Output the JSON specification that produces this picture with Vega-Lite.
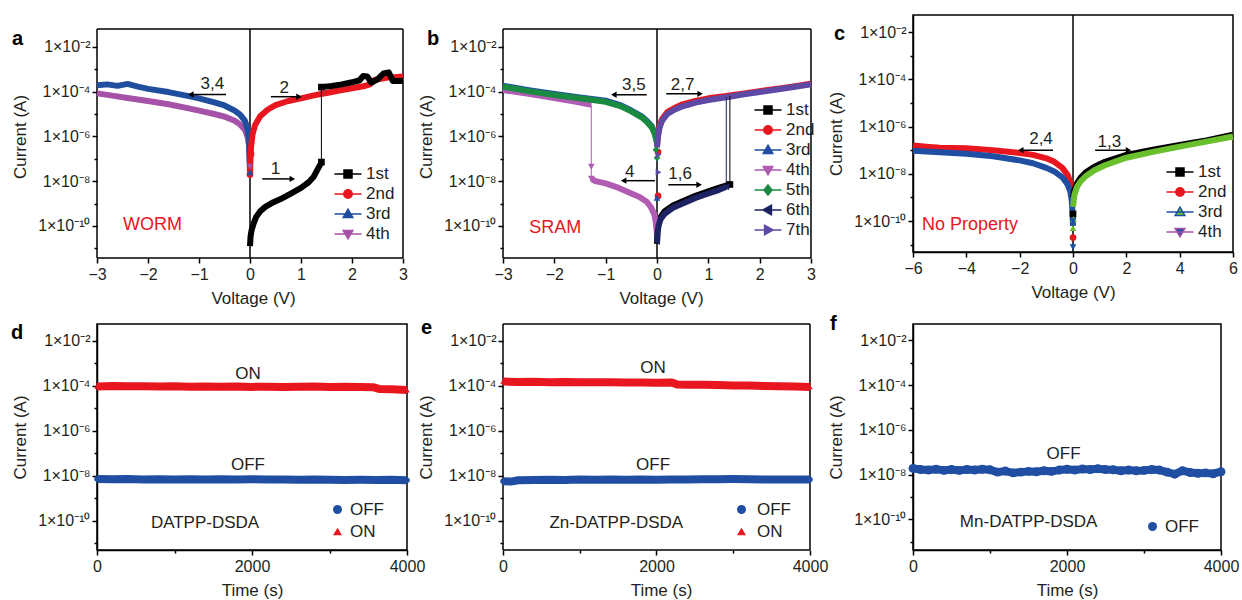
{
"$schema": "https://vega.github.io/schema/vega-lite/v6.json",
"padding": {"left": 10, "top": 13, "right": 5, "bottom": 5},
"background": "white",
"config": {
 "font": "Liberation Sans",
 "view": {"stroke": "#000", "strokeWidth": 1.5},
 "axis": {"grid": false, "domainColor": "#000", "domainWidth": 1.5, "tickColor": "#000", "tickWidth": 1.5, "labelFont": "Liberation Sans", "labelFontSize": 16, "labelColor": "#231f20", "titleFont": "Liberation Sans", "titleFontSize": 17, "titleFontWeight": "normal", "titleColor": "#231f20", "labelFlush": false, "labelOverlap": false},
 "axisX": {"labelPadding": 3, "titlePadding": 8},
 "axisY": {"labelPadding": 2, "titlePadding": 8},
 "legend": {"labelFont": "Liberation Sans", "labelFontSize": 17, "labelColor": "#231f20", "labelOffset": 4},
 "title": {"font": "Liberation Sans"},
 "text": {"font": "Liberation Sans", "fontSize": 17}
},
"datasets": {
 "aL": [
  {"s":"4th","g":"4","V":-3,"I":8.3e-5},{"s":"4th","g":"4","V":-2.7,"I":6.6e-5},{"s":"4th","g":"4","V":-2.4,"I":5.2e-5},{"s":"4th","g":"4","V":-2,"I":3.8e-5},{"s":"4th","g":"4","V":-1.6,"I":2.7e-5},{"s":"4th","g":"4","V":-1.2,"I":1.78e-5},{"s":"4th","g":"4","V":-1,"I":1.41e-5},{"s":"4th","g":"4","V":-0.7,"I":1e-5},{"s":"4th","g":"4","V":-0.5,"I":7.6e-6},{"s":"4th","g":"4","V":-0.3,"I":5e-6},{"s":"4th","g":"4","V":-0.2,"I":3.5e-6},{"s":"4th","g":"4","V":-0.1,"I":2e-6},{"s":"4th","g":"4","V":-0.05,"I":1e-6},{"s":"4th","g":"4","V":-0.02,"I":4e-7},{"s":"4th","g":"4","V":0,"I":4.4e-8},
  {"s":"3rd","g":"3","V":-3,"I":1.9e-4},{"s":"3rd","g":"3","V":-2.8,"I":2.1e-4},{"s":"3rd","g":"3","V":-2.6,"I":1.8e-4},{"s":"3rd","g":"3","V":-2.4,"I":2.2e-4},{"s":"3rd","g":"3","V":-2.2,"I":1.66e-4},{"s":"3rd","g":"3","V":-2,"I":1.32e-4},{"s":"3rd","g":"3","V":-1.6,"I":9.5e-5},{"s":"3rd","g":"3","V":-1.2,"I":6.3e-5},{"s":"3rd","g":"3","V":-1,"I":5e-5},{"s":"3rd","g":"3","V":-0.7,"I":3.3e-5},{"s":"3rd","g":"3","V":-0.5,"I":2.4e-5},{"s":"3rd","g":"3","V":-0.3,"I":1.41e-5},{"s":"3rd","g":"3","V":-0.2,"I":9.5e-6},{"s":"3rd","g":"3","V":-0.1,"I":5e-6},{"s":"3rd","g":"3","V":-0.05,"I":2.2e-6},{"s":"3rd","g":"3","V":-0.02,"I":7.9e-7},{"s":"3rd","g":"3","V":0,"I":2.5e-8},
  {"s":"2nd","g":"2","V":0,"I":2e-8},{"s":"2nd","g":"2","V":0.01,"I":1e-7},{"s":"2nd","g":"2","V":0.02,"I":3.2e-7},{"s":"2nd","g":"2","V":0.05,"I":1.26e-6},{"s":"2nd","g":"2","V":0.1,"I":3.2e-6},{"s":"2nd","g":"2","V":0.2,"I":7.9e-6},{"s":"2nd","g":"2","V":0.35,"I":1.58e-5},{"s":"2nd","g":"2","V":0.5,"I":2.5e-5},{"s":"2nd","g":"2","V":0.75,"I":3.8e-5},{"s":"2nd","g":"2","V":1,"I":5e-5},{"s":"2nd","g":"2","V":1.25,"I":6.8e-5},{"s":"2nd","g":"2","V":1.5,"I":8.7e-5},{"s":"2nd","g":"2","V":1.75,"I":1.12e-4},{"s":"2nd","g":"2","V":2,"I":1.41e-4},{"s":"2nd","g":"2","V":2.25,"I":1.78e-4},{"s":"2nd","g":"2","V":2.35,"I":2.1e-4},{"s":"2nd","g":"2","V":2.45,"I":3.4e-4},{"s":"2nd","g":"2","V":2.7,"I":4.2e-4},{"s":"2nd","g":"2","V":3,"I":4.7e-4},
  {"s":"1st","g":"1a","V":0,"I":1.26e-11},{"s":"1st","g":"1a","V":0.01,"I":3.2e-11},{"s":"1st","g":"1a","V":0.03,"I":6.3e-11},{"s":"1st","g":"1a","V":0.07,"I":1.26e-10},{"s":"1st","g":"1a","V":0.12,"I":2.5e-10},{"s":"1st","g":"1a","V":0.2,"I":4.5e-10},{"s":"1st","g":"1a","V":0.3,"I":7.1e-10},{"s":"1st","g":"1a","V":0.45,"I":1.12e-9},{"s":"1st","g":"1a","V":0.6,"I":1.58e-9},{"s":"1st","g":"1a","V":0.8,"I":2.8e-9},{"s":"1st","g":"1a","V":1,"I":5e-9},{"s":"1st","g":"1a","V":1.15,"I":8.9e-9},{"s":"1st","g":"1a","V":1.25,"I":1.58e-8},{"s":"1st","g":"1a","V":1.32,"I":3.2e-8},{"s":"1st","g":"1a","V":1.38,"I":5.6e-8},{"s":"1st","g":"1a","V":1.4,"I":7.1e-8},
  {"s":"1st","g":"1b","V":1.4,"I":1.58e-4},{"s":"1st","g":"1b","V":1.6,"I":1.78e-4},{"s":"1st","g":"1b","V":1.8,"I":2.1e-4},{"s":"1st","g":"1b","V":2,"I":2.6e-4},{"s":"1st","g":"1b","V":2.15,"I":3.2e-4},{"s":"1st","g":"1b","V":2.22,"I":5e-4},{"s":"1st","g":"1b","V":2.3,"I":4.7e-4},{"s":"1st","g":"1b","V":2.38,"I":2.5e-4},{"s":"1st","g":"1b","V":2.5,"I":3.5e-4},{"s":"1st","g":"1b","V":2.62,"I":6.5e-4},{"s":"1st","g":"1b","V":2.72,"I":7.2e-4},{"s":"1st","g":"1b","V":2.8,"I":3e-4},{"s":"1st","g":"1b","V":3,"I":3e-4}
 ],
 "aP": [{"s":"1st","V":1.4,"I":7.1e-8},{"s":"1st","V":1.4,"I":1.58e-4},{"s":"2nd","V":0,"I":2e-8},{"s":"2nd","V":0.02,"I":1.6e-7},{"s":"3rd","V":0,"I":2.5e-8},{"s":"4th","V":0,"I":4.4e-8}],
 "aA": [{"V":-0.47,"V2":-1.16,"I":7.4e-5},{"V":0.41,"V2":0.96,"I":5.9e-5},{"V":0.24,"V2":0.83,"I":1.26e-8}],
 "aH": [{"V":-1.16,"I":7.4e-5,"d":"L"},{"V":0.96,"I":5.9e-5,"d":"R"},{"V":0.83,"I":1.26e-8,"d":"R"}],
 "aT": [{"V":-0.74,"I":2.1e-4,"t":"3,4"},{"V":0.67,"I":1.38e-4,"t":"2"},{"V":0.5,"I":3.5e-8,"t":"1"}],
 "abF": [{"V":-3,"V2":3,"I":0.063,"I2":0.063},{"V":3,"V2":3,"I":3.7e-12,"I2":0.063},{"V":-3,"V2":-3,"I":3.7e-12,"I2":0.063},{"V":-3,"V2":3,"I":3.7e-12,"I2":3.7e-12}],
 "bL": [
  {"s":"1st","g":"1","V":0,"I":1.6e-11},{"s":"1st","g":"1","V":0.01,"I":6.3e-11},{"s":"1st","g":"1","V":0.03,"I":1.26e-10},{"s":"1st","g":"1","V":0.07,"I":2.5e-10},{"s":"1st","g":"1","V":0.15,"I":4.5e-10},{"s":"1st","g":"1","V":0.3,"I":7.9e-10},{"s":"1st","g":"1","V":0.5,"I":1.26e-9},{"s":"1st","g":"1","V":0.75,"I":2.2e-9},{"s":"1st","g":"1","V":1,"I":3.5e-9},{"s":"1st","g":"1","V":1.2,"I":5e-9},{"s":"1st","g":"1","V":1.42,"I":7.1e-9},
  {"s":"2nd","g":"2","V":0,"I":3.8e-7},{"s":"2nd","g":"2","V":0.02,"I":1.2e-6},{"s":"2nd","g":"2","V":0.05,"I":3e-6},{"s":"2nd","g":"2","V":0.1,"I":6e-6},{"s":"2nd","g":"2","V":0.2,"I":1.2e-5},{"s":"2nd","g":"2","V":0.35,"I":1.9e-5},{"s":"2nd","g":"2","V":0.5,"I":2.7e-5},{"s":"2nd","g":"2","V":0.75,"I":3.8e-5},{"s":"2nd","g":"2","V":1,"I":5e-5},{"s":"2nd","g":"2","V":1.35,"I":6.3e-5},{"s":"2nd","g":"2","V":1.7,"I":8.3e-5},{"s":"2nd","g":"2","V":2,"I":1.05e-4},{"s":"2nd","g":"2","V":2.5,"I":1.5e-4},{"s":"2nd","g":"2","V":3,"I":2.24e-4},
  {"s":"3rd","g":"3","V":-3,"I":1.82e-4},{"s":"3rd","g":"3","V":-2.5,"I":1.16e-4},{"s":"3rd","g":"3","V":-2,"I":7.8e-5},{"s":"3rd","g":"3","V":-1.5,"I":5.5e-5},{"s":"3rd","g":"3","V":-1,"I":3.9e-5},{"s":"3rd","g":"3","V":-0.7,"I":2.4e-5},{"s":"3rd","g":"3","V":-0.5,"I":1.43e-5},{"s":"3rd","g":"3","V":-0.3,"I":7.8e-6},{"s":"3rd","g":"3","V":-0.2,"I":5e-6},{"s":"3rd","g":"3","V":-0.1,"I":2.8e-6},{"s":"3rd","g":"3","V":-0.05,"I":1.55e-6},{"s":"3rd","g":"3","V":-0.02,"I":8.7e-7},{"s":"3rd","g":"3","V":0,"I":5.5e-7},
  {"s":"4th","g":"4a","V":-3,"I":1.17e-4},{"s":"4th","g":"4a","V":-2.5,"I":7.9e-5},{"s":"4th","g":"4a","V":-2,"I":5.2e-5},{"s":"4th","g":"4a","V":-1.6,"I":3.6e-5},{"s":"4th","g":"4a","V":-1.28,"I":2.6e-5},
  {"s":"4th","g":"4b","V":-1.28,"I":1.3e-8},{"s":"4th","g":"4b","V":-1.2,"I":1e-8},{"s":"4th","g":"4b","V":-1,"I":7.9e-9},{"s":"4th","g":"4b","V":-0.8,"I":5.6e-9},{"s":"4th","g":"4b","V":-0.5,"I":2.8e-9},{"s":"4th","g":"4b","V":-0.35,"I":2e-9},{"s":"4th","g":"4b","V":-0.2,"I":1.2e-9},{"s":"4th","g":"4b","V":-0.12,"I":7e-10},{"s":"4th","g":"4b","V":-0.05,"I":3.2e-10},{"s":"4th","g":"4b","V":-0.02,"I":1.26e-10},{"s":"4th","g":"4b","V":0,"I":4e-11},
  {"s":"5th","g":"5","V":-3,"I":1.66e-4},{"s":"5th","g":"5","V":-2.5,"I":1.05e-4},{"s":"5th","g":"5","V":-2,"I":7.1e-5},{"s":"5th","g":"5","V":-1.5,"I":5e-5},{"s":"5th","g":"5","V":-1,"I":3.5e-5},{"s":"5th","g":"5","V":-0.7,"I":2.2e-5},{"s":"5th","g":"5","V":-0.5,"I":1.3e-5},{"s":"5th","g":"5","V":-0.3,"I":7.1e-6},{"s":"5th","g":"5","V":-0.2,"I":4.5e-6},{"s":"5th","g":"5","V":-0.1,"I":2.5e-6},{"s":"5th","g":"5","V":-0.05,"I":1.4e-6},{"s":"5th","g":"5","V":-0.02,"I":7.9e-7},{"s":"5th","g":"5","V":0,"I":5e-7},
  {"s":"6th","g":"6","V":0,"I":2e-11},{"s":"6th","g":"6","V":0.01,"I":5e-11},{"s":"6th","g":"6","V":0.03,"I":1e-10},{"s":"6th","g":"6","V":0.07,"I":2e-10},{"s":"6th","g":"6","V":0.15,"I":3.5e-10},{"s":"6th","g":"6","V":0.3,"I":6.3e-10},{"s":"6th","g":"6","V":0.5,"I":1e-9},{"s":"6th","g":"6","V":0.75,"I":1.78e-9},{"s":"6th","g":"6","V":1,"I":2.8e-9},{"s":"6th","g":"6","V":1.2,"I":4e-9},{"s":"6th","g":"6","V":1.35,"I":5.6e-9},
  {"s":"7th","g":"7","V":0,"I":3.2e-7},{"s":"7th","g":"7","V":0.02,"I":1e-6},{"s":"7th","g":"7","V":0.05,"I":2.5e-6},{"s":"7th","g":"7","V":0.1,"I":5e-6},{"s":"7th","g":"7","V":0.2,"I":1e-5},{"s":"7th","g":"7","V":0.35,"I":1.58e-5},{"s":"7th","g":"7","V":0.5,"I":2.2e-5},{"s":"7th","g":"7","V":0.75,"I":3.2e-5},{"s":"7th","g":"7","V":1,"I":4.2e-5},{"s":"7th","g":"7","V":1.35,"I":5.6e-5},{"s":"7th","g":"7","V":1.7,"I":7.6e-5},{"s":"7th","g":"7","V":2,"I":9.5e-5},{"s":"7th","g":"7","V":2.5,"I":1.41e-4},{"s":"7th","g":"7","V":3,"I":2.1e-4}
 ],
 "bJ": [{"g":"4a","V":-1.28,"I":1.3e-8,"I2":2.6e-5},{"g":"1","V":1.42,"I":7.1e-9,"I2":6.3e-5},{"g":"6","V":1.35,"I":5.6e-9,"I2":5.6e-5}],
 "bP": [{"s":"1st","V":1.42,"I":7.1e-9},{"s":"2nd","V":0.02,"I":2.2e-9},{"s":"2nd","V":0.02,"I":2e-7},{"s":"3rd","V":0,"I":1.8e-9},{"s":"4th","V":-1.28,"I":4.4e-8},{"s":"4th","V":-1.28,"I":1.3e-8},{"s":"5th","V":0,"I":1.1e-7},{"s":"5th","V":-0.02,"I":2.5e-7},{"s":"6th","V":0,"I":2e-11},{"s":"6th","V":1.35,"I":5.6e-9},{"s":"7th","V":0.03,"I":1.5e-7},{"s":"7th","V":0.03,"I":2.5e-8}],
 "bA": [{"V":-0.2,"V2":-0.84,"I":7.2e-5},{"V":0.18,"V2":0.84,"I":7.9e-5},{"V":-0.04,"V2":-0.65,"I":1.05e-8},{"V":0.22,"V2":0.82,"I":6.9e-9}],
 "bH": [{"V":-0.84,"I":7.2e-5,"d":"L"},{"V":0.84,"I":7.9e-5,"d":"R"},{"V":-0.65,"I":1.05e-8,"d":"L"},{"V":0.82,"I":6.9e-9,"d":"R"}],
 "bT": [{"V":-0.45,"I":2e-4,"t":"3,5"},{"V":0.5,"I":2e-4,"t":"2,7"},{"V":-0.53,"I":2.6e-8,"t":"4"},{"V":0.45,"I":2e-8,"t":"1,6"}],
 "cL": [
  {"s":"2nd","g":"2","V":-6,"I":1.58e-7},{"s":"2nd","g":"2","V":-5.5,"I":1.41e-7},{"s":"2nd","g":"2","V":-5,"I":1.26e-7},{"s":"2nd","g":"2","V":-4,"I":1.2e-7},{"s":"2nd","g":"2","V":-3.5,"I":1.1e-7},{"s":"2nd","g":"2","V":-3,"I":1e-7},{"s":"2nd","g":"2","V":-2,"I":7.6e-8},{"s":"2nd","g":"2","V":-1.5,"I":6.3e-8},{"s":"2nd","g":"2","V":-1,"I":4.5e-8},{"s":"2nd","g":"2","V":-0.7,"I":3.2e-8},{"s":"2nd","g":"2","V":-0.4,"I":1.78e-8},{"s":"2nd","g":"2","V":-0.2,"I":8.9e-9},{"s":"2nd","g":"2","V":-0.1,"I":4.5e-9},{"s":"2nd","g":"2","V":-0.03,"I":1.58e-9},{"s":"2nd","g":"2","V":0,"I":6.3e-10},
  {"s":"4th","g":"4","V":-6,"I":9.5e-8},{"s":"4th","g":"4","V":-5,"I":8.2e-8},{"s":"4th","g":"4","V":-4,"I":7e-8},{"s":"4th","g":"4","V":-3,"I":5.5e-8},{"s":"4th","g":"4","V":-2,"I":3.7e-8},{"s":"4th","g":"4","V":-1.5,"I":2.8e-8},{"s":"4th","g":"4","V":-1,"I":1.78e-8},{"s":"4th","g":"4","V":-0.7,"I":1.26e-8},{"s":"4th","g":"4","V":-0.4,"I":7.1e-9},{"s":"4th","g":"4","V":-0.2,"I":3.5e-9},{"s":"4th","g":"4","V":-0.1,"I":1.78e-9},{"s":"4th","g":"4","V":-0.05,"I":7.9e-10},{"s":"4th","g":"4","V":-0.02,"I":2.5e-10},{"s":"4th","g":"4","V":0,"I":6.3e-11},
  {"s":"1st","g":"1","V":0,"I":1e-9},{"s":"1st","g":"1","V":0.05,"I":2e-9},{"s":"1st","g":"1","V":0.15,"I":4e-9},{"s":"1st","g":"1","V":0.3,"I":7.1e-9},{"s":"1st","g":"1","V":0.5,"I":1.2e-8},{"s":"1st","g":"1","V":0.8,"I":2e-8},{"s":"1st","g":"1","V":1.2,"I":3.2e-8},{"s":"1st","g":"1","V":2,"I":6.3e-8},{"s":"1st","g":"1","V":3,"I":1.05e-7},{"s":"1st","g":"1","V":4,"I":1.66e-7},{"s":"1st","g":"1","V":5,"I":2.6e-7},{"s":"1st","g":"1","V":6,"I":4.5e-7},
  {"s":"3rd","g":"3","V":0,"I":4e-10},{"s":"3rd","g":"3","V":0.05,"I":1.26e-9},{"s":"3rd","g":"3","V":0.15,"I":2.8e-9},{"s":"3rd","g":"3","V":0.3,"I":5e-9},{"s":"3rd","g":"3","V":0.5,"I":8.3e-9},{"s":"3rd","g":"3","V":0.8,"I":1.41e-8},{"s":"3rd","g":"3","V":1.2,"I":2.3e-8},{"s":"3rd","g":"3","V":2,"I":4.8e-8},{"s":"3rd","g":"3","V":3,"I":8.5e-8},{"s":"3rd","g":"3","V":4,"I":1.41e-7},{"s":"3rd","g":"3","V":5,"I":2.3e-7},{"s":"3rd","g":"3","V":6,"I":3.8e-7}
 ],
 "cP": [{"s":"1st","V":0,"I":2e-10},{"s":"2nd","V":0,"I":2e-11},{"s":"3rd","V":0,"I":5e-11},{"s":"3rd","V":0.02,"I":1.2e-10},{"s":"4th","V":0,"I":7.9e-12},{"s":"4th","V":0,"I":1e-10}],
 "cA": [{"V":-0.75,"V2":-1.96,"I":1e-7},{"V":0.83,"V2":2.08,"I":1e-7}],
 "cH": [{"V":-1.96,"I":1e-7,"d":"L"},{"V":2.08,"I":1e-7,"d":"R"}],
 "cT": [{"V":-1.2,"I":3e-7,"t":"2,4"},{"V":1.36,"I":2.2e-7,"t":"1,3"}],
 "dL": [
  {"s":"ON","t":0,"I":9.5e-5},{"s":"ON","t":200,"I":1e-4},{"s":"ON","t":400,"I":9.6e-5},{"s":"ON","t":600,"I":9.8e-5},{"s":"ON","t":800,"I":9.4e-5},{"s":"ON","t":1000,"I":9.7e-5},{"s":"ON","t":1200,"I":9.3e-5},{"s":"ON","t":1400,"I":9.5e-5},{"s":"ON","t":1600,"I":9.2e-5},{"s":"ON","t":1800,"I":9.4e-5},{"s":"ON","t":2000,"I":9.1e-5},{"s":"ON","t":2200,"I":9.3e-5},{"s":"ON","t":2400,"I":9e-5},{"s":"ON","t":2600,"I":9.2e-5},{"s":"ON","t":2800,"I":9.4e-5},{"s":"ON","t":3000,"I":9e-5},{"s":"ON","t":3200,"I":9.2e-5},{"s":"ON","t":3400,"I":8.9e-5},{"s":"ON","t":3560,"I":8.8e-5},{"s":"ON","t":3640,"I":7.4e-5},{"s":"ON","t":3800,"I":7.2e-5},{"s":"ON","t":4000,"I":6.6e-5},
  {"s":"OFF","t":0,"I":7.4e-9},{"s":"OFF","t":200,"I":7.1e-9},{"s":"OFF","t":400,"I":7.3e-9},{"s":"OFF","t":600,"I":7e-9},{"s":"OFF","t":800,"I":7.2e-9},{"s":"OFF","t":1000,"I":7e-9},{"s":"OFF","t":1200,"I":7.2e-9},{"s":"OFF","t":1400,"I":6.9e-9},{"s":"OFF","t":1600,"I":7.1e-9},{"s":"OFF","t":1800,"I":6.9e-9},{"s":"OFF","t":2000,"I":7.1e-9},{"s":"OFF","t":2200,"I":6.9e-9},{"s":"OFF","t":2400,"I":7e-9},{"s":"OFF","t":2600,"I":6.8e-9},{"s":"OFF","t":2800,"I":7e-9},{"s":"OFF","t":3000,"I":6.8e-9},{"s":"OFF","t":3200,"I":6.6e-9},{"s":"OFF","t":3400,"I":6.7e-9},{"s":"OFF","t":3600,"I":6.6e-9},{"s":"OFF","t":3800,"I":6.7e-9},{"s":"OFF","t":4000,"I":6.5e-9}
 ],
 "dT": [{"t":1948,"I":3.4e-4,"x":"ON"},{"t":1948,"I":3.1e-8,"x":"OFF"},{"t":1394,"I":8.1e-11,"x":"DATPP-DSDA"}],
 "eL": [
  {"s":"ON","t":0,"I":1.58e-4},{"s":"ON","t":200,"I":1.5e-4},{"s":"ON","t":400,"I":1.53e-4},{"s":"ON","t":600,"I":1.48e-4},{"s":"ON","t":800,"I":1.5e-4},{"s":"ON","t":1000,"I":1.46e-4},{"s":"ON","t":1200,"I":1.45e-4},{"s":"ON","t":1400,"I":1.46e-4},{"s":"ON","t":1600,"I":1.42e-4},{"s":"ON","t":1800,"I":1.43e-4},{"s":"ON","t":2000,"I":1.4e-4},{"s":"ON","t":2200,"I":1.42e-4},{"s":"ON","t":2270,"I":1.15e-4},{"s":"ON","t":2400,"I":1.14e-4},{"s":"ON","t":2600,"I":1.12e-4},{"s":"ON","t":2800,"I":1.1e-4},{"s":"ON","t":3000,"I":1.05e-4},{"s":"ON","t":3200,"I":1.04e-4},{"s":"ON","t":3400,"I":1e-4},{"s":"ON","t":3600,"I":9.7e-5},{"s":"ON","t":3800,"I":9.4e-5},{"s":"ON","t":4000,"I":9e-5},
  {"s":"OFF","t":0,"I":5.8e-9},{"s":"OFF","t":100,"I":5.6e-9},{"s":"OFF","t":200,"I":6.4e-9},{"s":"OFF","t":400,"I":6.6e-9},{"s":"OFF","t":600,"I":6.8e-9},{"s":"OFF","t":800,"I":6.6e-9},{"s":"OFF","t":1000,"I":6.9e-9},{"s":"OFF","t":1200,"I":6.7e-9},{"s":"OFF","t":1400,"I":6.9e-9},{"s":"OFF","t":1600,"I":6.8e-9},{"s":"OFF","t":1800,"I":7e-9},{"s":"OFF","t":2000,"I":6.8e-9},{"s":"OFF","t":2200,"I":7e-9},{"s":"OFF","t":2400,"I":6.9e-9},{"s":"OFF","t":2600,"I":7.1e-9},{"s":"OFF","t":2800,"I":7.2e-9},{"s":"OFF","t":3000,"I":7.3e-9},{"s":"OFF","t":3200,"I":7.2e-9},{"s":"OFF","t":3400,"I":7e-9},{"s":"OFF","t":3600,"I":7e-9},{"s":"OFF","t":3800,"I":6.9e-9},{"s":"OFF","t":4000,"I":7e-9}
 ],
 "eT": [{"t":1955,"I":6.2e-4,"x":"ON"},{"t":1955,"I":3e-8,"x":"OFF"},{"t":1476,"I":7.9e-11,"x":"Zn-DATPP-DSDA"}],
 "eF": [{"t":0,"t2":4000,"I":0.0569,"I2":0.0569},{"t":4000,"t2":4000,"I":5.1e-12,"I2":0.0569},{"t":0,"t2":0,"I":5.1e-12,"I2":0.0569},{"t":0,"t2":4000,"I":5.1e-12,"I2":5.1e-12}],
 "fL": [
  {"s":"OFF","t":0,"I":1.9e-8},{"s":"OFF","t":100,"I":1.7e-8},{"s":"OFF","t":200,"I":1.6e-8},{"s":"OFF","t":300,"I":1.75e-8},{"s":"OFF","t":400,"I":1.55e-8},{"s":"OFF","t":500,"I":1.7e-8},{"s":"OFF","t":600,"I":1.55e-8},{"s":"OFF","t":700,"I":1.7e-8},{"s":"OFF","t":800,"I":1.6e-8},{"s":"OFF","t":900,"I":1.75e-8},{"s":"OFF","t":1000,"I":1.65e-8},{"s":"OFF","t":1100,"I":1.3e-8},{"s":"OFF","t":1200,"I":1.45e-8},{"s":"OFF","t":1300,"I":1.2e-8},{"s":"OFF","t":1400,"I":1.3e-8},{"s":"OFF","t":1500,"I":1.4e-8},{"s":"OFF","t":1600,"I":1.35e-8},{"s":"OFF","t":1700,"I":1.5e-8},{"s":"OFF","t":1800,"I":1.4e-8},{"s":"OFF","t":1900,"I":1.6e-8},{"s":"OFF","t":2000,"I":1.75e-8},{"s":"OFF","t":2100,"I":1.6e-8},{"s":"OFF","t":2200,"I":1.8e-8},{"s":"OFF","t":2300,"I":1.7e-8},{"s":"OFF","t":2400,"I":1.85e-8},{"s":"OFF","t":2500,"I":1.7e-8},{"s":"OFF","t":2600,"I":1.65e-8},{"s":"OFF","t":2700,"I":1.5e-8},{"s":"OFF","t":2800,"I":1.6e-8},{"s":"OFF","t":2900,"I":1.5e-8},{"s":"OFF","t":3000,"I":1.55e-8},{"s":"OFF","t":3100,"I":1.7e-8},{"s":"OFF","t":3200,"I":1.6e-8},{"s":"OFF","t":3300,"I":1.3e-8},{"s":"OFF","t":3400,"I":1.05e-8},{"s":"OFF","t":3500,"I":1.5e-8},{"s":"OFF","t":3600,"I":1.25e-8},{"s":"OFF","t":3700,"I":1.15e-8},{"s":"OFF","t":3800,"I":1.2e-8},{"s":"OFF","t":3900,"I":1.1e-8},{"s":"OFF","t":4000,"I":1.35e-8}
 ],
 "fT": [{"t":1955,"I":8.5e-8,"x":"OFF"},{"t":1502,"I":7.9e-11,"x":"Mn-DATPP-DSDA"}]
},
"columns": 3,
"spacing": {"row": 66, "column": 94},
"align": {"row": "each", "column": "none"},
"bounds": "flush",
"resolve": {"scale": {"color": "independent", "fill": "independent", "stroke": "independent", "shape": "independent"}, "legend": {"color": "independent", "fill": "independent", "stroke": "independent", "shape": "independent"}},
"concat": [
 {"width": 312, "height": 243, "view": {"stroke": null},
  "title": {"text": "a", "anchor": "start", "frame": "group", "fontSize": 20, "fontWeight": "bold", "dx": -85, "dy": 50, "offset": 0, "baseline": "alphabetic", "color": "#000"},
  "encoding": {
   "x": {"field": "V", "type": "quantitative", "scale": {"domain": [-3, 3.1176], "nice": false, "zero": false}, "axis": {"title": "Voltage (V)", "domain": false, "values": [-3,-2,-1,0,1,2,3], "format": "d", "tickSize": 5}},
   "y": {"field": "I", "type": "quantitative", "scale": {"type": "log", "domain": [3.7e-12, 0.263], "nice": false}, "axis": {"title": "Current (A)", "domain": false, "values": [1e-11,1e-10,1e-9,1e-8,1e-7,1e-6,1e-5,1e-4,1e-3,1e-2], "labelExpr": "round(log(datum.value)/LN10) == -2 ? '1×10⁻²' : round(log(datum.value)/LN10) == -4 ? '1×10⁻⁴' : round(log(datum.value)/LN10) == -6 ? '1×10⁻⁶' : round(log(datum.value)/LN10) == -8 ? '1×10⁻⁸' : round(log(datum.value)/LN10) == -10 ? '1×10⁻¹⁰' : ''", "tickSize": {"condition": {"test": "round(log(datum.value)/LN10) % 2 != 0", "value": 3}, "value": 5}}}
  },
  "layer": [
   {"data": {"name": "abF"}, "mark": {"type": "rule", "color": "#000", "strokeWidth": 1.5}, "encoding": {"x2": {"field": "V2"}, "y2": {"field": "I2"}}},
   {"data": {"values": [{"V": 0, "I": 3.7e-12, "I2": 0.063}]}, "mark": {"type": "rule", "color": "#000", "strokeWidth": 1.5}, "encoding": {"y2": {"field": "I2"}}},
   {"data": {"name": "aL"}, "mark": {"type": "line", "strokeWidth": 6, "strokeJoin": "round"}, "encoding": {"color": {"field": "g", "type": "nominal", "scale": {"domain": ["1a","1b","2","3","4"], "range": ["#000000","#000000","#e8161e","#1f4e9e","#a652a8"]}, "legend": null}}},
   {"data": {"values": [{"V": 1.4, "I": 7.1e-8, "I2": 1.58e-4}]}, "mark": {"type": "rule", "strokeWidth": 1, "color": "#000"}, "encoding": {"y2": {"field": "I2"}}},
   {"data": {"name": "aP"}, "transform": [{"filter": "datum.s == '1st'"}], "mark": {"type": "point", "shape": "square", "filled": true, "color": "#000000", "size": 45, "opacity": 1}},
   {"data": {"name": "aP"}, "transform": [{"filter": "datum.s == '2nd'"}], "mark": {"type": "point", "shape": "circle", "filled": true, "color": "#e8161e", "size": 45, "opacity": 1}},
   {"data": {"name": "aP"}, "transform": [{"filter": "datum.s == '3rd'"}], "mark": {"type": "point", "shape": "triangle-up", "filled": true, "color": "#1f4e9e", "size": 45, "opacity": 1}},
   {"data": {"name": "aP"}, "transform": [{"filter": "datum.s == '4th'"}], "mark": {"type": "point", "shape": "triangle-down", "filled": true, "color": "#a652a8", "size": 45, "opacity": 1}},
   {"data": {"values": [{"s": "1st"}]}, "mark": {"type": "point", "filled": true, "opacity": 1},
    "encoding": {
     "fill": {"field": "s", "type": "nominal", "scale": {"domain": ["1st","2nd","3rd","4th"], "range": ["#000000","#e8161e","#1f4e9e","#a652a8"]}, "legend": {"title": null, "orient": "none", "legendX": 240, "legendY": 148, "symbolSize": 400, "symbolStrokeWidth": 1.5, "rowPadding": 1, "labelOffset": 7}},
     "stroke": {"field": "s", "type": "nominal", "scale": {"domain": ["1st","2nd","3rd","4th"], "range": ["#000000","#e8161e","#1f4e9e","#a652a8"]}, "legend": {"title": null, "orient": "none", "legendX": 240, "legendY": 148, "symbolSize": 400, "symbolStrokeWidth": 1.5, "rowPadding": 1, "labelOffset": 7}},
     "shape": {"field": "s", "type": "nominal", "scale": {"domain": ["1st","2nd","3rd","4th"], "range": ["M-1.35,0H1.35M-0.4,-0.4H0.4V0.4H-0.4Z","M-1.35,0H1.35M0.42,0A0.42,0.42,0,1,1,-0.42,0A0.42,0.42,0,1,1,0.42,0Z","M-1.35,0H1.35M0,-0.48L0.48,0.34L-0.48,0.34Z","M-1.35,0H1.35M0,0.48L0.48,-0.34L-0.48,-0.34Z"]}, "legend": {"title": null, "orient": "none", "legendX": 240, "legendY": 148, "symbolSize": 400, "symbolStrokeWidth": 1.5, "rowPadding": 1, "labelOffset": 7}}
    }},
   {"data": {"name": "aA"}, "mark": {"type": "rule", "color": "#000", "strokeWidth": 1.5}, "encoding": {"x2": {"field": "V2"}}},
   {"data": {"name": "aH"}, "transform": [{"filter": "datum.d == 'L'"}], "mark": {"type": "point", "shape": "triangle-left", "filled": true, "color": "#000", "size": 40, "opacity": 1}},
   {"data": {"name": "aH"}, "transform": [{"filter": "datum.d == 'R'"}], "mark": {"type": "point", "shape": "triangle-right", "filled": true, "color": "#000", "size": 40, "opacity": 1}},
   {"data": {"name": "aT"}, "mark": {"type": "text", "fontSize": 17, "color": "#231f20"}, "encoding": {"text": {"field": "t"}}},
   {"data": {"values": [{"V": -2.49, "I": 1.12e-10, "t": "WORM"}]}, "mark": {"type": "text", "align": "left", "fontSize": 18, "color": "#e8161e"}, "encoding": {"text": {"field": "t"}}}
  ]
 },
 {"width": 316, "height": 243, "view": {"stroke": null},
  "title": {"text": "b", "anchor": "start", "frame": "group", "fontSize": 20, "fontWeight": "bold", "dx": -76, "dy": 50, "offset": 0, "baseline": "alphabetic", "color": "#000"},
  "encoding": {
   "x": {"field": "V", "type": "quantitative", "scale": {"domain": [-3, 3.156], "nice": false, "zero": false}, "axis": {"title": "Voltage (V)", "domain": false, "values": [-3,-2,-1,0,1,2,3], "format": "d", "tickSize": 5}},
   "y": {"field": "I", "type": "quantitative", "scale": {"type": "log", "domain": [3.7e-12, 0.263], "nice": false}, "axis": {"title": "Current (A)", "domain": false, "values": [1e-11,1e-10,1e-9,1e-8,1e-7,1e-6,1e-5,1e-4,1e-3,1e-2], "labelExpr": "round(log(datum.value)/LN10) == -2 ? '1×10⁻²' : round(log(datum.value)/LN10) == -4 ? '1×10⁻⁴' : round(log(datum.value)/LN10) == -6 ? '1×10⁻⁶' : round(log(datum.value)/LN10) == -8 ? '1×10⁻⁸' : round(log(datum.value)/LN10) == -10 ? '1×10⁻¹⁰' : ''", "tickSize": {"condition": {"test": "round(log(datum.value)/LN10) % 2 != 0", "value": 3}, "value": 5}}}
  },
  "layer": [
   {"data": {"name": "abF"}, "mark": {"type": "rule", "color": "#000", "strokeWidth": 1.5}, "encoding": {"x2": {"field": "V2"}, "y2": {"field": "I2"}}},
   {"data": {"values": [{"V": 0, "I": 3.7e-12, "I2": 0.063}]}, "mark": {"type": "rule", "color": "#000", "strokeWidth": 1.5}, "encoding": {"y2": {"field": "I2"}}},
   {"data": {"name": "bL"}, "mark": {"type": "line", "strokeWidth": 6, "strokeJoin": "round"}, "encoding": {"color": {"field": "g", "type": "nominal", "scale": {"domain": ["1","2","3","4a","4b","5","6","7"], "range": ["#000000","#e8161e","#1f4ea3","#b05cb3","#b05cb3","#1a8a40","#1c2262","#5e4aa5"]}, "legend": null}}},
   {"data": {"name": "bJ"}, "mark": {"type": "rule", "strokeWidth": 1}, "encoding": {"y2": {"field": "I2"}, "color": {"field": "g", "type": "nominal", "legend": null}}},
   {"data": {"name": "bP"}, "transform": [{"filter": "datum.s == '1st'"}], "mark": {"type": "point", "shape": "square", "filled": true, "color": "#000000", "size": 45, "opacity": 1}},
   {"data": {"name": "bP"}, "transform": [{"filter": "datum.s == '2nd'"}], "mark": {"type": "point", "shape": "circle", "filled": true, "color": "#e8161e", "size": 45, "opacity": 1}},
   {"data": {"name": "bP"}, "transform": [{"filter": "datum.s == '3rd'"}], "mark": {"type": "point", "shape": "triangle-up", "filled": true, "color": "#1f4ea3", "size": 45, "opacity": 1}},
   {"data": {"name": "bP"}, "transform": [{"filter": "datum.s == '4th'"}], "mark": {"type": "point", "shape": "triangle-down", "filled": true, "color": "#b05cb3", "size": 45, "opacity": 1}},
   {"data": {"name": "bP"}, "transform": [{"filter": "datum.s == '5th'"}], "mark": {"type": "point", "shape": "diamond", "filled": true, "color": "#1a8a40", "size": 45, "opacity": 1}},
   {"data": {"name": "bP"}, "transform": [{"filter": "datum.s == '6th'"}], "mark": {"type": "point", "shape": "triangle-left", "filled": true, "color": "#1c2262", "size": 45, "opacity": 1}},
   {"data": {"name": "bP"}, "transform": [{"filter": "datum.s == '7th'"}], "mark": {"type": "point", "shape": "triangle-right", "filled": true, "color": "#5e4aa5", "size": 45, "opacity": 1}},
   {"data": {"values": [{"s": "1st"}]}, "mark": {"type": "point", "filled": true, "opacity": 1},
    "encoding": {
     "fill": {"field": "s", "type": "nominal", "scale": {"domain": ["1st","2nd","3rd","4th","5th","6th","7th"], "range": ["#000000","#e8161e","#1f4ea3","#b05cb3","#1a8a40","#1c2262","#5e4aa5"]}, "legend": {"title": null, "orient": "none", "legendX": 254, "legendY": 84, "symbolSize": 400, "symbolStrokeWidth": 1.5, "rowPadding": 1, "labelOffset": 7}},
     "stroke": {"field": "s", "type": "nominal", "scale": {"domain": ["1st","2nd","3rd","4th","5th","6th","7th"], "range": ["#000000","#e8161e","#1f4ea3","#b05cb3","#1a8a40","#1c2262","#5e4aa5"]}, "legend": {"title": null, "orient": "none", "legendX": 254, "legendY": 84, "symbolSize": 400, "symbolStrokeWidth": 1.5, "rowPadding": 1, "labelOffset": 7}},
     "shape": {"field": "s", "type": "nominal", "scale": {"domain": ["1st","2nd","3rd","4th","5th","6th","7th"], "range": ["M-1.35,0H1.35M-0.4,-0.4H0.4V0.4H-0.4Z","M-1.35,0H1.35M0.42,0A0.42,0.42,0,1,1,-0.42,0A0.42,0.42,0,1,1,0.42,0Z","M-1.35,0H1.35M0,-0.48L0.48,0.34L-0.48,0.34Z","M-1.35,0H1.35M0,0.48L0.48,-0.34L-0.48,-0.34Z","M-1.35,0H1.35M0,-0.5L0.4,0L0,0.5L-0.4,0Z","M-1.35,0H1.35M-0.5,0L0.34,-0.48L0.34,0.48Z","M-1.35,0H1.35M0.5,0L-0.34,-0.48L-0.34,0.48Z"]}, "legend": {"title": null, "orient": "none", "legendX": 254, "legendY": 84, "symbolSize": 400, "symbolStrokeWidth": 1.5, "rowPadding": 1, "labelOffset": 7}}
    }},
   {"data": {"name": "bA"}, "mark": {"type": "rule", "color": "#000", "strokeWidth": 1.5}, "encoding": {"x2": {"field": "V2"}}},
   {"data": {"name": "bH"}, "transform": [{"filter": "datum.d == 'L'"}], "mark": {"type": "point", "shape": "triangle-left", "filled": true, "color": "#000", "size": 40, "opacity": 1}},
   {"data": {"name": "bH"}, "transform": [{"filter": "datum.d == 'R'"}], "mark": {"type": "point", "shape": "triangle-right", "filled": true, "color": "#000", "size": 40, "opacity": 1}},
   {"data": {"name": "bT"}, "mark": {"type": "text", "fontSize": 17, "color": "#231f20"}, "encoding": {"text": {"field": "t"}}},
   {"data": {"values": [{"V": -2.49, "I": 7.9e-11, "t": "SRAM"}]}, "mark": {"type": "text", "align": "left", "fontSize": 18, "color": "#e8161e"}, "encoding": {"text": {"field": "t"}}}
  ]
 },
 {"width": 320, "height": 237,
  "title": {"text": "c", "anchor": "start", "frame": "group", "fontSize": 20, "fontWeight": "bold", "dx": -79, "dy": 46, "offset": 0, "baseline": "alphabetic", "color": "#000"},
  "encoding": {
   "x": {"field": "V", "type": "quantitative", "scale": {"domain": [-6, 6], "nice": false, "zero": false}, "axis": {"title": "Voltage (V)", "values": [-6,-4,-2,0,2,4,6], "format": "d", "tickSize": 5}},
   "y": {"field": "I", "type": "quantitative", "scale": {"type": "log", "domain": [4.9e-12, 0.0525], "nice": false}, "axis": {"title": "Current (A)", "values": [1e-11,1e-10,1e-9,1e-8,1e-7,1e-6,1e-5,1e-4,1e-3,1e-2], "labelExpr": "round(log(datum.value)/LN10) == -2 ? '1×10⁻²' : round(log(datum.value)/LN10) == -4 ? '1×10⁻⁴' : round(log(datum.value)/LN10) == -6 ? '1×10⁻⁶' : round(log(datum.value)/LN10) == -8 ? '1×10⁻⁸' : round(log(datum.value)/LN10) == -10 ? '1×10⁻¹⁰' : ''", "tickSize": {"condition": {"test": "round(log(datum.value)/LN10) % 2 != 0", "value": 3}, "value": 5}}}
  },
  "layer": [
   {"data": {"values": [{"V": 0, "I": 4.9e-12, "I2": 0.0525}]}, "mark": {"type": "rule", "color": "#000", "strokeWidth": 1.5}, "encoding": {"y2": {"field": "I2"}}},
   {"data": {"name": "cL"}, "mark": {"type": "line", "strokeWidth": 6, "strokeJoin": "round"}, "encoding": {"color": {"field": "g", "type": "nominal", "scale": {"domain": ["1","2","3","4"], "range": ["#000000","#e8161e","#6abf2c","#1f4ea3"]}, "legend": null}}},
   {"data": {"name": "cP"}, "transform": [{"filter": "datum.s == '1st'"}], "mark": {"type": "point", "shape": "square", "filled": true, "color": "#000000", "size": 45, "opacity": 1}},
   {"data": {"name": "cP"}, "transform": [{"filter": "datum.s == '2nd'"}], "mark": {"type": "point", "shape": "circle", "filled": true, "color": "#e8161e", "size": 45, "opacity": 1}},
   {"data": {"name": "cP"}, "transform": [{"filter": "datum.s == '3rd'"}], "mark": {"type": "point", "shape": "triangle-up", "filled": true, "color": "#6abf2c", "size": 45, "opacity": 1}},
   {"data": {"name": "cP"}, "transform": [{"filter": "datum.s == '4th'"}], "mark": {"type": "point", "shape": "triangle-down", "filled": true, "color": "#1f4ea3", "size": 45, "opacity": 1}},
   {"data": {"values": [{"s": "1st"}]}, "mark": {"type": "point", "filled": true, "opacity": 1},
    "encoding": {
     "fill": {"field": "s", "type": "nominal", "scale": {"domain": ["1st","2nd","3rd","4th"], "range": ["#000000","#e8161e","#6abf2c","#1f4ea3"]}, "legend": {"title": null, "orient": "none", "legendX": 256, "legendY": 146, "symbolSize": 400, "symbolStrokeWidth": 1.5, "rowPadding": 1, "labelOffset": 7}},
     "stroke": {"field": "s", "type": "nominal", "scale": {"domain": ["1st","2nd","3rd","4th"], "range": ["#000000","#e8161e","#1f4ea3","#a652a8"]}, "legend": {"title": null, "orient": "none", "legendX": 256, "legendY": 146, "symbolSize": 400, "symbolStrokeWidth": 1.5, "rowPadding": 1, "labelOffset": 7}},
     "shape": {"field": "s", "type": "nominal", "scale": {"domain": ["1st","2nd","3rd","4th"], "range": ["M-1.35,0H1.35M-0.4,-0.4H0.4V0.4H-0.4Z","M-1.35,0H1.35M0.42,0A0.42,0.42,0,1,1,-0.42,0A0.42,0.42,0,1,1,0.42,0Z","M-1.35,0H1.35M0,-0.48L0.48,0.34L-0.48,0.34Z","M-1.35,0H1.35M0,0.48L0.48,-0.34L-0.48,-0.34Z"]}, "legend": {"title": null, "orient": "none", "legendX": 256, "legendY": 146, "symbolSize": 400, "symbolStrokeWidth": 1.5, "rowPadding": 1, "labelOffset": 7}}
    }},
   {"data": {"name": "cA"}, "mark": {"type": "rule", "color": "#000", "strokeWidth": 1.5}, "encoding": {"x2": {"field": "V2"}}},
   {"data": {"name": "cH"}, "transform": [{"filter": "datum.d == 'L'"}], "mark": {"type": "point", "shape": "triangle-left", "filled": true, "color": "#000", "size": 40, "opacity": 1}},
   {"data": {"name": "cH"}, "transform": [{"filter": "datum.d == 'R'"}], "mark": {"type": "point", "shape": "triangle-right", "filled": true, "color": "#000", "size": 40, "opacity": 1}},
   {"data": {"name": "cT"}, "mark": {"type": "text", "fontSize": 17, "color": "#231f20"}, "encoding": {"text": {"field": "t"}}},
   {"data": {"values": [{"V": -5.66, "I": 6.5e-11, "t": "No Property"}]}, "mark": {"type": "text", "align": "left", "fontSize": 18, "color": "#e8161e"}, "encoding": {"text": {"field": "t"}}}
  ]
 },
 {"width": 310, "height": 226,
  "title": {"text": "d", "anchor": "start", "frame": "group", "fontSize": 20, "fontWeight": "bold", "dx": -86, "dy": 35, "offset": 0, "baseline": "alphabetic", "color": "#000"},
  "encoding": {
   "x": {"field": "t", "type": "quantitative", "scale": {"domain": [0, 4000], "nice": false, "zero": false}, "axis": {"title": "Time (s)", "values": [0,1000,2000,3000,4000], "labelExpr": "datum.value % 2000 == 0 ? '' + datum.value : ''", "tickSize": {"condition": {"test": "datum.value % 2000 != 0", "value": 3}, "value": 5}}},
   "y": {"field": "I", "type": "quantitative", "scale": {"type": "log", "domain": [5.1e-12, 0.0569], "nice": false}, "axis": {"title": "Current (A)", "values": [1e-11,1e-10,1e-9,1e-8,1e-7,1e-6,1e-5,1e-4,1e-3,1e-2], "labelExpr": "round(log(datum.value)/LN10) == -2 ? '1×10⁻²' : round(log(datum.value)/LN10) == -4 ? '1×10⁻⁴' : round(log(datum.value)/LN10) == -6 ? '1×10⁻⁶' : round(log(datum.value)/LN10) == -8 ? '1×10⁻⁸' : round(log(datum.value)/LN10) == -10 ? '1×10⁻¹⁰' : ''", "tickSize": {"condition": {"test": "round(log(datum.value)/LN10) % 2 != 0", "value": 3}, "value": 5}}}
  },
  "layer": [
   {"data": {"name": "dL"}, "transform": [{"filter": "datum.s == 'ON'"}], "mark": {"type": "line", "strokeWidth": 8, "strokeJoin": "round", "color": "#e8161e"}},
   {"data": {"name": "dL"}, "transform": [{"filter": "datum.s == 'OFF'"}], "mark": {"type": "line", "strokeWidth": 8, "strokeJoin": "round", "color": "#1f4ea3"}},
   {"data": {"name": "dL"}, "mark": {"type": "point", "filled": true, "size": 30, "opacity": 1},
    "encoding": {
     "fill": {"field": "s", "type": "nominal", "scale": {"domain": ["OFF","ON"], "range": ["#1f4ea3","#e8161e"]}, "legend": {"title": null, "orient": "none", "legendX": 232, "legendY": 177, "symbolSize": 80, "symbolStrokeWidth": 0, "rowPadding": 4}},
     "shape": {"field": "s", "type": "nominal", "scale": {"domain": ["OFF","ON"], "range": ["circle","triangle-up"]}, "legend": {"title": null, "orient": "none", "legendX": 232, "legendY": 177, "symbolSize": 80, "symbolStrokeWidth": 0, "rowPadding": 4}}
    }},
   {"data": {"name": "dT"}, "mark": {"type": "text", "fontSize": 17, "color": "#231f20"}, "encoding": {"text": {"field": "x"}}}
  ]
 },
 {"width": 316, "height": 226, "view": {"stroke": null},
  "title": {"text": "e", "anchor": "start", "frame": "group", "fontSize": 20, "fontWeight": "bold", "dx": -82, "dy": 31, "offset": 0, "baseline": "alphabetic", "color": "#000"},
  "encoding": {
   "x": {"field": "t", "type": "quantitative", "scale": {"domain": [0, 4117.3], "nice": false, "zero": false}, "axis": {"title": "Time (s)", "domain": false, "values": [0,1000,2000,3000,4000], "labelExpr": "datum.value % 2000 == 0 ? '' + datum.value : ''", "tickSize": {"condition": {"test": "datum.value % 2000 != 0", "value": 3}, "value": 5}}},
   "y": {"field": "I", "type": "quantitative", "scale": {"type": "log", "domain": [5.1e-12, 0.0569], "nice": false}, "axis": {"title": "Current (A)", "domain": false, "values": [1e-11,1e-10,1e-9,1e-8,1e-7,1e-6,1e-5,1e-4,1e-3,1e-2], "labelExpr": "round(log(datum.value)/LN10) == -2 ? '1×10⁻²' : round(log(datum.value)/LN10) == -4 ? '1×10⁻⁴' : round(log(datum.value)/LN10) == -6 ? '1×10⁻⁶' : round(log(datum.value)/LN10) == -8 ? '1×10⁻⁸' : round(log(datum.value)/LN10) == -10 ? '1×10⁻¹⁰' : ''", "tickSize": {"condition": {"test": "round(log(datum.value)/LN10) % 2 != 0", "value": 3}, "value": 5}}}
  },
  "layer": [
   {"data": {"name": "eF"}, "mark": {"type": "rule", "color": "#000", "strokeWidth": 1.5}, "encoding": {"x2": {"field": "t2"}, "y2": {"field": "I2"}}},
   {"data": {"name": "eL"}, "transform": [{"filter": "datum.s == 'ON'"}], "mark": {"type": "line", "strokeWidth": 8, "strokeJoin": "round", "color": "#e8161e"}},
   {"data": {"name": "eL"}, "transform": [{"filter": "datum.s == 'OFF'"}], "mark": {"type": "line", "strokeWidth": 8, "strokeJoin": "round", "color": "#1f4ea3"}},
   {"data": {"name": "eL"}, "mark": {"type": "point", "filled": true, "size": 30, "opacity": 1},
    "encoding": {
     "fill": {"field": "s", "type": "nominal", "scale": {"domain": ["OFF","ON"], "range": ["#1f4ea3","#e8161e"]}, "legend": {"title": null, "orient": "none", "legendX": 230, "legendY": 177, "symbolSize": 80, "symbolStrokeWidth": 0, "rowPadding": 4, "labelOffset": 7}},
     "shape": {"field": "s", "type": "nominal", "scale": {"domain": ["OFF","ON"], "range": ["circle","triangle-up"]}, "legend": {"title": null, "orient": "none", "legendX": 230, "legendY": 177, "symbolSize": 80, "symbolStrokeWidth": 0, "rowPadding": 4, "labelOffset": 7}}
    }},
   {"data": {"name": "eT"}, "mark": {"type": "text", "fontSize": 17, "color": "#231f20"}, "encoding": {"text": {"field": "x"}}}
  ]
 },
 {"width": 308, "height": 226,
  "title": {"text": "f", "anchor": "start", "frame": "group", "fontSize": 20, "fontWeight": "bold", "dx": -83, "dy": 26, "offset": 0, "baseline": "alphabetic", "color": "#000"},
  "encoding": {
   "x": {"field": "t", "type": "quantitative", "scale": {"domain": [0, 4000], "nice": false, "zero": false}, "axis": {"title": "Time (s)", "values": [0,1000,2000,3000,4000], "labelExpr": "datum.value % 2000 == 0 ? '' + datum.value : ''", "tickSize": {"condition": {"test": "datum.value % 2000 != 0", "value": 3}, "value": 5}}},
   "y": {"field": "I", "type": "quantitative", "scale": {"type": "log", "domain": [4.3e-12, 0.054], "nice": false}, "axis": {"title": "Current (A)", "values": [1e-11,1e-10,1e-9,1e-8,1e-7,1e-6,1e-5,1e-4,1e-3,1e-2], "labelExpr": "round(log(datum.value)/LN10) == -2 ? '1×10⁻²' : round(log(datum.value)/LN10) == -4 ? '1×10⁻⁴' : round(log(datum.value)/LN10) == -6 ? '1×10⁻⁶' : round(log(datum.value)/LN10) == -8 ? '1×10⁻⁸' : round(log(datum.value)/LN10) == -10 ? '1×10⁻¹⁰' : ''", "tickSize": {"condition": {"test": "round(log(datum.value)/LN10) % 2 != 0", "value": 3}, "value": 5}}}
  },
  "layer": [
   {"data": {"name": "fL"}, "mark": {"type": "line", "strokeWidth": 8, "strokeJoin": "round", "color": "#1f4ea3"}},
   {"data": {"name": "fL"}, "mark": {"type": "point", "filled": true, "size": 80, "opacity": 1},
    "encoding": {
     "fill": {"field": "s", "type": "nominal", "scale": {"domain": ["OFF"], "range": ["#1f4ea3"]}, "legend": {"title": null, "orient": "none", "legendX": 231, "legendY": 194, "symbolSize": 80, "symbolStrokeWidth": 0, "labelOffset": 4}},
     "shape": {"field": "s", "type": "nominal", "scale": {"domain": ["OFF"], "range": ["circle"]}, "legend": {"title": null, "orient": "none", "legendX": 231, "legendY": 194, "symbolSize": 80, "symbolStrokeWidth": 0, "labelOffset": 4}}
    }},
   {"data": {"name": "fT"}, "mark": {"type": "text", "fontSize": 17, "color": "#231f20"}, "encoding": {"text": {"field": "x"}}}
  ]
 }
]
}
